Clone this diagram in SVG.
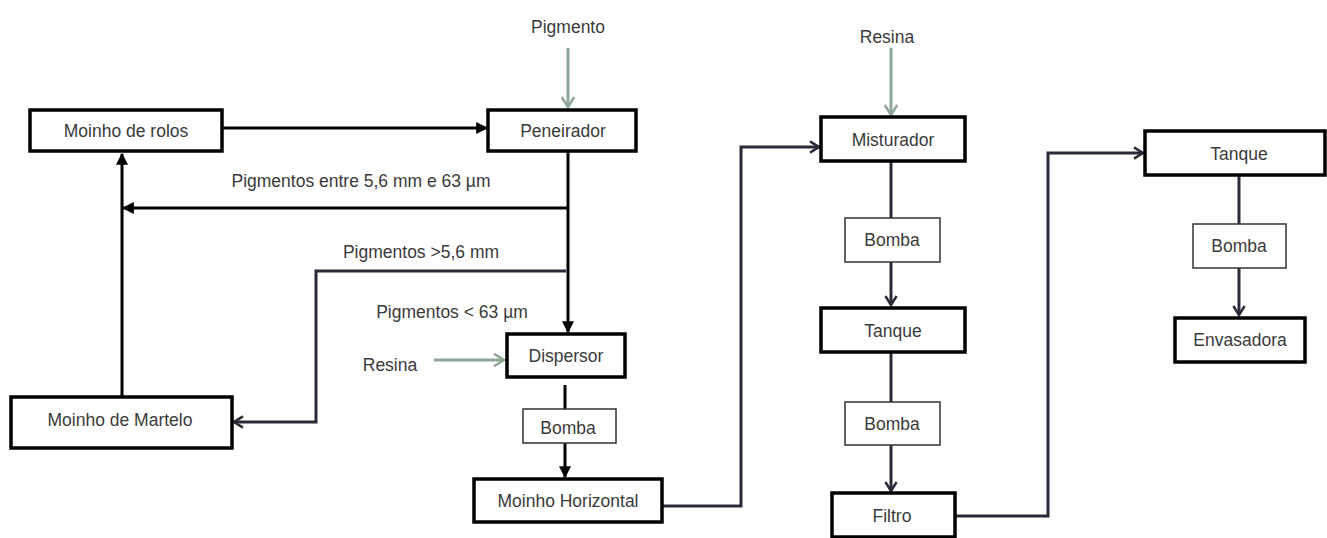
<svg xmlns="http://www.w3.org/2000/svg" width="1327" height="538" viewBox="0 0 1327 538">
<defs>
<style>
.box{fill:#fff;stroke:#000;stroke-width:3.5}
.pump{fill:#fff;stroke:#333;stroke-width:1.5}
text{font-family:"Liberation Sans",Arial,sans-serif;font-size:17.5px;fill:#3a3a3a;text-anchor:middle}
.c{fill:none;stroke:#000;stroke-width:3}
.cd{fill:none;stroke:#2a2a38;stroke-width:3}
.g{fill:none;stroke:#8fa596;stroke-width:3}
</style>
<marker id="tri" viewBox="0 0 10 10" refX="9" refY="5" markerWidth="4" markerHeight="4" orient="auto" markerUnits="strokeWidth">
<path d="M0,0 L10,5 L0,10 z" fill="#000"/>
</marker>
<marker id="chev" viewBox="0 0 12 12" refX="10" refY="6" markerWidth="4.5" markerHeight="4.5" orient="auto" markerUnits="strokeWidth">
<path d="M2,1 L10,6 L2,11" fill="none" stroke="#2a2a38" stroke-width="2.2"/>
</marker>
<marker id="gchev" viewBox="0 0 12 12" refX="10" refY="6" markerWidth="5" markerHeight="5" orient="auto" markerUnits="strokeWidth">
<path d="M2,1 L10,6 L2,11" fill="none" stroke="#8fa596" stroke-width="2"/>
</marker>
</defs>
<rect width="1327" height="538" fill="#fff"/>
<g id="connectors">
<line class="g" x1="568" y1="48" x2="568" y2="107" marker-end="url(#gchev)"/>
<line class="g" x1="434" y1="360" x2="504" y2="360" marker-end="url(#gchev)"/>
<line class="g" x1="891" y1="48" x2="891" y2="115" marker-end="url(#gchev)"/>
<line class="c" x1="222" y1="128" x2="487" y2="128" marker-end="url(#tri)"/>
<line class="c" x1="568" y1="152" x2="568" y2="332" marker-end="url(#tri)"/>
<polyline class="c" points="568,208 123,208" marker-end="url(#tri)"/>
<polyline class="c" points="122,397 122,154" marker-end="url(#tri)"/>
<polyline class="cd" points="566,271 316,271 316,422 234,422" marker-end="url(#chev)"/>
<line class="c" x1="565" y1="385" x2="565" y2="409"/>
<line class="c" x1="565" y1="443" x2="565" y2="477" marker-end="url(#tri)"/>
<polyline class="cd" points="662,506 741,506 741,147 819,147" marker-end="url(#chev)"/>
<line class="cd" x1="891" y1="162" x2="891" y2="218"/>
<line class="cd" x1="891" y1="262" x2="891" y2="305" marker-end="url(#chev)"/>
<line class="cd" x1="891" y1="352" x2="891" y2="402"/>
<line class="cd" x1="891" y1="445" x2="891" y2="491" marker-end="url(#chev)"/>
<polyline class="cd" points="955,516 1048,516 1048,153 1143,153" marker-end="url(#chev)"/>
<line class="cd" x1="1239" y1="175" x2="1239" y2="224"/>
<line class="cd" x1="1239" y1="268" x2="1239" y2="315" marker-end="url(#chev)"/>
</g>
<g id="labels">
<text x="568" y="33">Pigmento</text>
<text x="361" y="187">Pigmentos entre 5,6 mm  e 63 µm</text>
<text x="421" y="258">Pigmentos &gt;5,6 mm</text>
<text x="452" y="318">Pigmentos &lt; 63 µm</text>
<text x="390" y="371">Resina</text>
<text x="887" y="43">Resina</text>
</g>
<g id="moinho-rolos"><rect class="box" x="30" y="110" width="192" height="41"/><text x="126" y="137">Moinho de rolos</text></g>
<g id="peneirador"><rect class="box" x="488" y="110" width="148" height="41"/><text x="563" y="137">Peneirador</text></g>
<g id="moinho-martelo"><rect class="box" x="11" y="397" width="221" height="51"/><text x="120" y="426">Moinho de Martelo</text></g>
<g id="dispersor"><rect class="box" x="507" y="334" width="118" height="43"/><text x="566" y="362">Dispersor</text></g>
<g id="bomba1"><rect class="pump" x="523" y="409" width="93" height="34"/><text x="568" y="434">Bomba</text></g>
<g id="moinho-horizontal"><rect class="box" x="474" y="479" width="188" height="43"/><text x="568" y="507">Moinho Horizontal</text></g>
<g id="misturador"><rect class="box" x="821" y="117" width="144" height="44"/><text x="893" y="146">Misturador</text></g>
<g id="bomba2"><rect class="pump" x="845" y="218" width="95" height="44"/><text x="892" y="246">Bomba</text></g>
<g id="tanque1"><rect class="box" x="821" y="308" width="144" height="44"/><text x="893" y="337">Tanque</text></g>
<g id="bomba3"><rect class="pump" x="845" y="402" width="95" height="43"/><text x="892" y="430">Bomba</text></g>
<g id="filtro"><rect class="box" x="832" y="493" width="123" height="44"/><text x="892" y="522">Filtro</text></g>
<g id="tanque2"><rect class="box" x="1145" y="131" width="180" height="44"/><text x="1239" y="160">Tanque</text></g>
<g id="bomba4"><rect class="pump" x="1193" y="224" width="93" height="44"/><text x="1239" y="252">Bomba</text></g>
<g id="envasadora"><rect class="box" x="1175" y="318" width="130" height="44"/><text x="1240" y="346">Envasadora</text></g>
</svg>
